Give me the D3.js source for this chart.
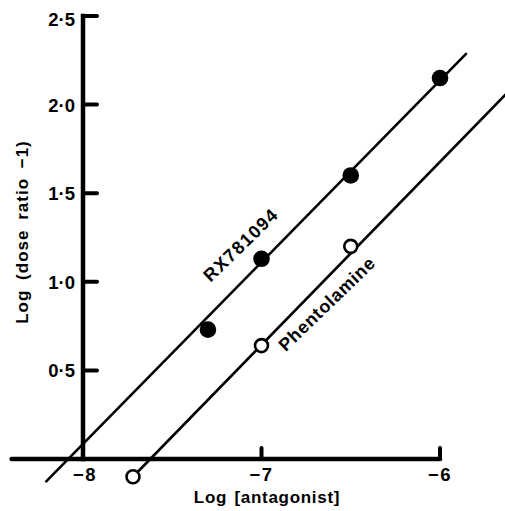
<!DOCTYPE html>
<html><head><meta charset="utf-8">
<script src="https://cdn.jsdelivr.net/npm/d3@7"></script>
<style>
html,body{margin:0;padding:0;background:#fff;}
svg{display:block;}
text{font-family:"Liberation Sans",Arial,Helvetica,sans-serif;fill:#000;}
</style></head>
<body>
<script>
// Data
const rxX = [-7.3, -7.0, -6.5, -6.0];
const rxY = [0.73, 1.13, 1.60, 2.15];
const phX = [-7.72, -7.0, -6.5];
const phY = [-0.10, 0.64, 1.20];
const rxLineX = [-8.21, -5.85];
const rxLineY = [-0.13, 2.29];
const phLineX = [-7.72, -5.60];
const phLineY = [-0.10, 2.09];
const xTicks = [-8, -7, -6];
const xTickLabels = ["\u22128", "\u22127", "\u22126"];
const yTicks = [0.5, 1.0, 1.5, 2.0, 2.5];
const yTickLabels = ["0\u00b75", "1\u00b70", "1\u00b75", "2\u00b70", "2\u00b75"];
const xTitle = "Log [antagonist]";
const yTitle = "Log (dose ratio \u22121)";

const W = 505, H = 511;
const svg = d3.select("body").append("svg").attr("width", W).attr("height", H);
const x = d3.scaleLinear().domain([-8, -6]).range([83, 440]);
const y = d3.scaleLinear().domain([0, 2.5]).range([459, 16]);

// series lines
const line = d3.line().x(d => x(d[0])).y(d => y(d[1]));
svg.append("path").datum(d3.zip(rxLineX, rxLineY)).attr("d", line)
  .attr("stroke", "#000").attr("stroke-width", 2.6).attr("fill", "none");
svg.append("path").datum(d3.zip(phLineX, phLineY)).attr("d", line)
  .attr("stroke", "#000").attr("stroke-width", 2.6).attr("fill", "none");

// axes
const ax = svg.append("g");
ax.append("line").attr("x1", x(-8.40)).attr("x2", x(-6)).attr("y1", y(0)).attr("y2", y(0))
  .attr("stroke", "#000").attr("stroke-width", 4.5).attr("stroke-linecap", "round");
ax.append("line").attr("x1", x(-8)).attr("x2", x(-8)).attr("y1", y(0)).attr("y2", y(2.5))
  .attr("stroke", "#000").attr("stroke-width", 4.5).attr("stroke-linecap", "square");
ax.selectAll(".yt").data(yTicks).join("line")
  .attr("x1", x(-8)).attr("x2", x(-8) + 14).attr("y1", d => y(d)).attr("y2", d => y(d))
  .attr("stroke", "#000").attr("stroke-width", 4).attr("stroke-linecap", "round");
ax.selectAll(".xt").data(xTicks.slice(1)).join("line")
  .attr("x1", d => x(d)).attr("x2", d => x(d)).attr("y1", y(0)).attr("y2", y(0) - 11)
  .attr("stroke", "#000").attr("stroke-width", 4).attr("stroke-linecap", "round");

ax.selectAll(".ytl").data(yTicks).join("text")
  .attr("x", 75).attr("y", d => y(d) + (d === 2.5 ? 9.5 : 7)).attr("text-anchor", "end")
  .attr("font-size", 18.5).attr("font-weight", "bold")
  .text((d, i) => yTickLabels[i]);
ax.selectAll(".xtl").data(xTicks).join("text")
  .attr("x", (d, i) => x(d) + (i === 0 ? 2 : 0)).attr("y", 480.5).attr("text-anchor", "middle")
  .attr("font-size", 18.5).attr("font-weight", "bold").attr("letter-spacing", 1.5)
  .text((d, i) => xTickLabels[i]);

svg.append("text").attr("x", 267).attr("y", 503).attr("text-anchor", "middle")
  .attr("font-size", 17).attr("font-weight", "bold").attr("letter-spacing", 0.7).attr("word-spacing", 2).text(xTitle);
svg.append("text").attr("transform", "translate(28,232) rotate(-90)").attr("text-anchor", "middle")
  .attr("font-size", 17).attr("font-weight", "bold").attr("letter-spacing", 1).attr("word-spacing", 4).text(yTitle);

// points
svg.selectAll(".rx").data(d3.zip(rxX, rxY)).join("circle")
  .attr("cx", d => x(d[0])).attr("cy", d => y(d[1])).attr("r", 8.3).attr("fill", "#000");
svg.selectAll(".ph").data(d3.zip(phX, phY)).join("circle")
  .attr("cx", d => x(d[0])).attr("cy", d => y(d[1])).attr("r", 6.5)
  .attr("fill", "#fff").attr("stroke", "#000").attr("stroke-width", 2.6);

// series labels
svg.append("text").attr("transform", "translate(241,245) rotate(-44)").attr("text-anchor", "middle")
  .attr("dominant-baseline", "central").attr("font-size", 18).attr("font-weight", "bold").attr("letter-spacing", 1.4).text("RX781094");
svg.append("text").attr("transform", "translate(327,304) rotate(-44)").attr("text-anchor", "middle")
  .attr("dominant-baseline", "central").attr("font-size", 18).attr("font-weight", "bold").attr("letter-spacing", 0.7).text("Phentolamine");
</script>
</body></html>
